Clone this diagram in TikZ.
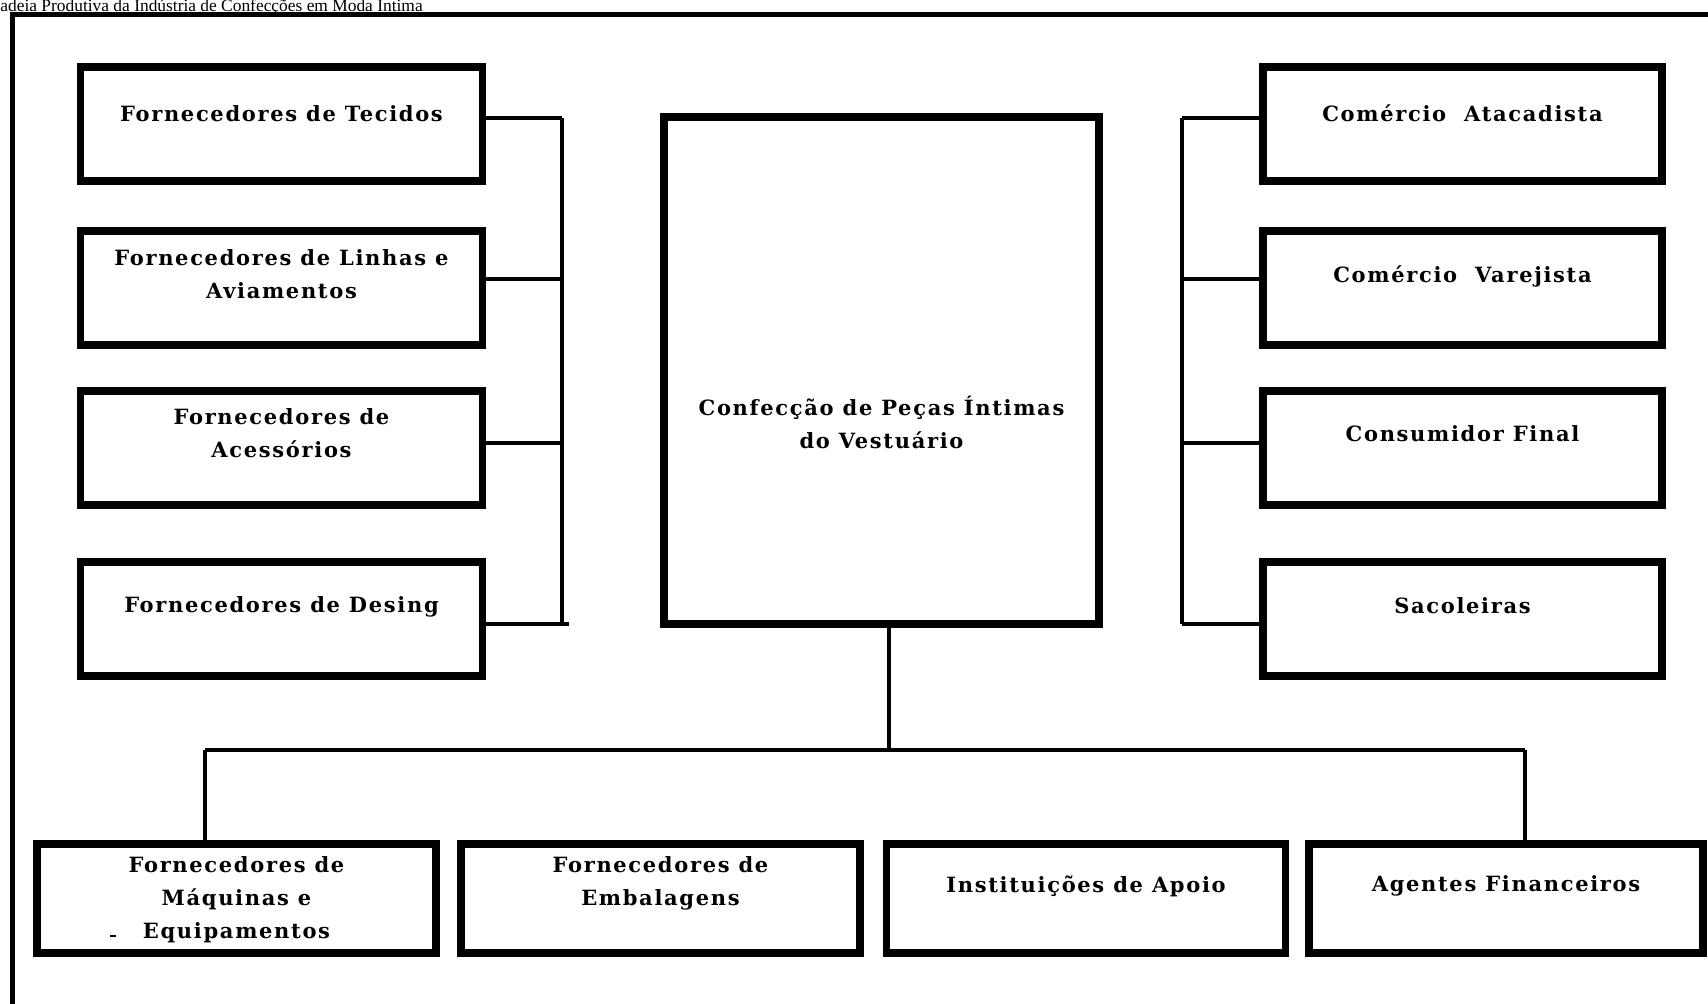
\documentclass[tikz,border=0pt]{standalone}
\usepackage{fontspec}
\setmainfont{Liberation Serif}
\newfontfamily\boxfont[LetterSpace=8]{DejaVu Serif}
\usetikzlibrary{calc}

% one unit = one pixel of the 1708 x 1004 sheet, y growing downwards
\tikzset{
  outline/.style={line width=2.5pt},
  sidebox/.style={draw, line width=3.8pt, rectangle, inner sep=0pt,
                  minimum width=201pt, minimum height=57pt},
  rightbox/.style={sidebox, minimum width=199.5pt},
  corebox/.style={draw, line width=4pt, rectangle, inner sep=0pt,
                  minimum width=217.5pt, minimum height=253.5pt},
  basebox/.style={draw, line width=3.8pt, rectangle, inner sep=0pt,
                  minimum width=199.5pt, minimum height=54.5pt},
  lbl/.style={font=\boxfont\bfseries\fontsize{10.5}{16.5}\selectfont,
              align=center, inner sep=0pt},
  link/.style={line width=2pt},
  caption/.style={font=\fontsize{8.7}{10}\selectfont, inner sep=0pt, anchor=base west}
}

\begin{document}
\begin{tikzpicture}[x=0.5pt, y=-0.5pt]
\useasboundingbox (0,0) rectangle (1708,1004);
\clip (0,0) rectangle (1708,1004);

% heading and outer frame
\node[caption] (title) at (0,12) {adeia Produtiva da Indústria de Confecções em Moda Íntima};
\draw[outline] (12,1010) -- (12,15) -- (1715,15);

% suppliers, left column
\node[sidebox] (L1) at (281.5,124) {};
\node[sidebox] (L2) at (281.5,288) {};
\node[sidebox] (L3) at (281.5,448) {};
\node[sidebox] (L4) at (281.5,619) {};
\node[lbl] (tL1) at (281.5,114) {Fornecedores de Tecidos};
\node[lbl] (tL2) at (281.5,274) {Fornecedores de Linhas e\\Aviamentos};
\node[lbl] (tL3) at (281.5,433) {Fornecedores de\\Acessórios};
\node[lbl] (tL4) at (281.5,607) {Fornecedores de Desing};

% distribution, right column
\node[rightbox] (R1) at (1462.5,124) {};
\node[rightbox] (R2) at (1462.5,288) {};
\node[rightbox] (R3) at (1462.5,448) {};
\node[rightbox] (R4) at (1462.5,619) {};
\node[lbl] (tR1) at (1462.5,113) {Comércio~ Atacadista};
\node[lbl] (tR2) at (1462.5,276) {Comércio~ Varejista};
\node[lbl] (tR3) at (1462.5,434) {Consumidor Final};
\node[lbl] (tR4) at (1462.5,606) {Sacoleiras};

% core industry
\node[corebox] (C) at (881.5,370.5) {};
\node[lbl] (tC) at (881.5,422) {Confecção de Peças Íntimas\\do Vestuário};

% support row
\node[basebox] (B1) at (236.5,898.5) {};
\node[basebox] (B2) at (660.5,898.5) {};
\node[basebox] (B3) at (1086,898.5) {};
\node[basebox, minimum width=197pt] (B4) at (1506,898.5) {};
\node[lbl] (tB1) at (236.5,900) {Fornecedores de\\Máquinas e\\Equipamentos};
\node[lbl] (tB2) at (660.5,883) {Fornecedores de\\Embalagens};
\node[lbl] (tB3) at (1086,886) {Instituições de Apoio};
\node[lbl] (tB4) at (1506,886) {Agentes Financeiros};
\draw[line width=1pt] (110,936) -- (116,936);

% left bus
\coordinate (lb1) at (562,118);
\coordinate (lb2) at (562,279);
\coordinate (lb3) at (562,443);
\coordinate (lb4) at (562,624);
\draw[link] (lb1 -| L1.east) -- (lb1);
\draw[link] (lb2 -| L2.east) -- (lb2);
\draw[link] (lb3 -| L3.east) -- (lb3);
\draw[link] (lb4 -| L4.east) -- (lb4) -- ++(7,0);
\draw[link] (lb1) -- (lb4);

% right bus
\coordinate (rb1) at (1182,118);
\coordinate (rb2) at (1182,279);
\coordinate (rb3) at (1182,443);
\coordinate (rb4) at (1182,624);
\draw[link] (rb1) -- (rb1 -| R1.west);
\draw[link] (rb2) -- (rb2 -| R2.west);
\draw[link] (rb3) -- (rb3 -| R3.west);
\draw[link] (rb4) -- (rb4 -| R4.west);
\draw[link] (rb1) -- (rb4);

% bottom tree
\coordinate (cj) at (889,750);
\coordinate (bj1) at (205,750);
\coordinate (bj4) at (1525,750);
\draw[link] (cj |- C.south) -- (cj);
\draw[link] (bj1) -- (bj4);
\draw[link] (bj1) -- (bj1 |- B1.north);
\draw[link] (bj4) -- (bj4 |- B4.north);
\end{tikzpicture}
\end{document}
